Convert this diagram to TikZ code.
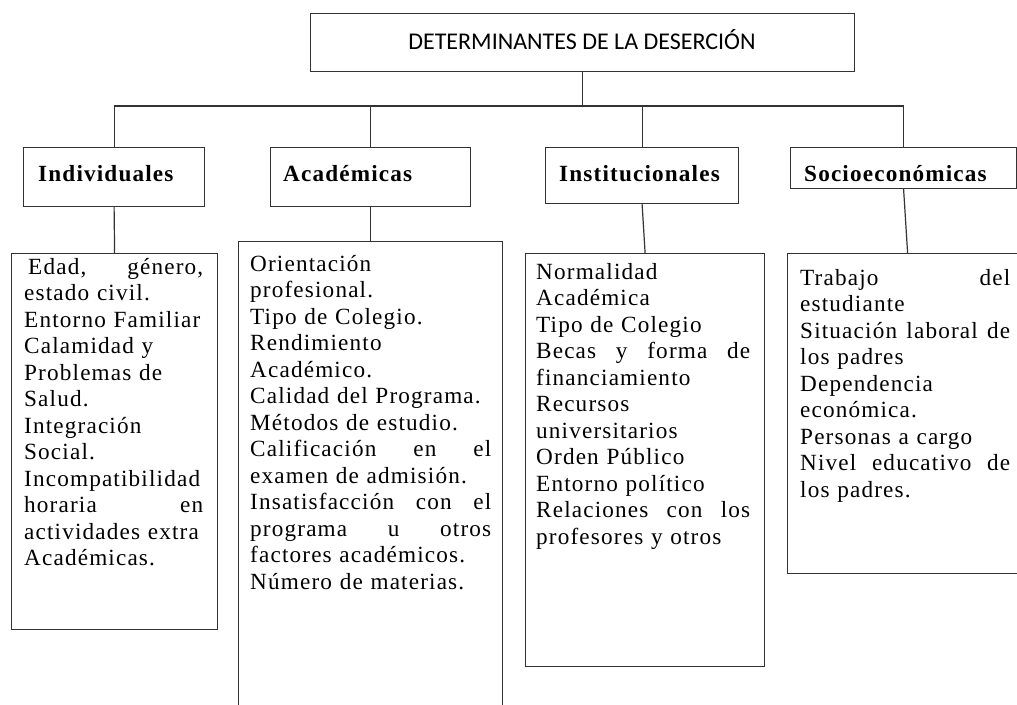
\documentclass[tikz,border=0pt]{standalone}
\usepackage{fontspec}
\setmainfont{Liberation Serif}
\newfontfamily\calibf{Carlito}
\newfontfamily\bodyf[LetterSpace=5]{Liberation Serif}
\begin{document}
\begin{tikzpicture}[x=1pt,y=-1pt,
  ln/.style={draw=black!80, line width=1.2pt},
  boxn/.style={ln, rectangle, inner sep=0pt, anchor=north west},
  body/.style={anchor=base west, inner sep=0pt, align=left,
    font=\bodyf\fontsize{23.2}{26.5}\selectfont},
  head/.style={anchor=base west, inner sep=0pt,
    font=\bodyf\bfseries\fontsize{23.2}{28}\selectfont}]
\useasboundingbox (0,0) rectangle (1017,704);
\clip (0,0) rectangle (1017,704);
\fill[white] (0,0) rectangle (1017,704);
% top box
\node[boxn, minimum width=544pt, minimum height=58pt] (top) at (310,13) {};
\node[anchor=base, inner sep=0pt, font=\calibf\fontsize{24}{28}\selectfont] (toptext) at (582,49) {DETERMINANTES DE LA DESERCIÓN};
% headings
\node[boxn, minimum width=181pt, minimum height=59pt] (h1) at (23,147) {};
\node[head] (h1t) at (38,181) {Individuales};
\node[boxn, minimum width=200pt, minimum height=59pt] (h2) at (270,147) {};
\node[head] (h2t) at (283,181) {Académicas};
\node[boxn, minimum width=193pt, minimum height=56pt] (h3) at (545,147) {};
\node[head] (h3t) at (559,181) {Institucionales};
\node[boxn, minimum width=226pt, minimum height=41pt] (h4) at (790,147) {};
\node[head] (h4t) at (804,181) {Socioeconómicas};
% content boxes
\node[boxn, minimum width=206pt, minimum height=376pt] (c1) at (11,253) {};
\node[boxn, minimum width=264pt, minimum height=490pt] (c2) at (238,241) {};
\node[boxn, minimum width=239pt, minimum height=413pt] (c3) at (525,253) {};
\node[boxn, minimum width=240pt, minimum height=320pt] (c4) at (787,253) {};
% connectors
\coordinate (bar) at (0,106);
\draw[ln] (top.south) -- (top.south |- bar);
\draw[ln] (h1.north |- bar) -- (h4.north |- bar);
\draw[ln] (h1.north |- bar) -- (h1.north);
\draw[ln] (h2.north |- bar) -- (h2.north);
\draw[ln] (h3.north |- bar) -- (h3.north);
\draw[ln] (h4.north |- bar) -- (h4.north);
\draw[ln] (h1.south) -- (c1.north);
\draw[ln] (h2.south) -- (c2.north);
\draw[ln] (h3.south) -- (c3.north);
\draw[ln] (h4.south) -- (c4.north);
% texts
\node[body, text width=179pt] (t1) at (24,274) {%
\hspace*{4pt}Edad,\hfill género,\\
estado civil.\\
Entorno Familiar\\
Calamidad y\\
Problemas de\\
Salud.\\
Integración\\
Social.\\
Incompatibilidad\\
horaria\hfill en\\
actividades extra\\
Académicas.};
\node[body, text width=241pt] (t2) at (250,271) {%
Orientación\\
profesional.\\
Tipo de Colegio.\\
Rendimiento\\
Académico.\\
Calidad del Programa.\\
Métodos de estudio.\\
Calificación\hfill en\hfill el\\
examen de admisión.\\
Insatisfacción\hfill con\hfill el\\
programa\hfill u\hfill otros\\
factores académicos.\\
Número de materias.};
\node[body, text width=214pt] (t3) at (536,279) {%
Normalidad\\
Académica\\
Tipo de Colegio\\
Becas\hfill y\hfill forma\hfill de\\
financiamiento\\
Recursos\\
universitarios\\
Orden Público\\
Entorno político\\
Relaciones\hfill con\hfill los\\
profesores y otros};
\node[body, text width=210pt] (t4) at (800,285) {%
Trabajo\hfill del\\
estudiante\\
Situación\hfill laboral\hfill de\\
los padres\\
Dependencia\\
económica.\\
Personas a cargo\\
Nivel\hfill educativo\hfill de\\
los padres.};
\end{tikzpicture}
\end{document}
